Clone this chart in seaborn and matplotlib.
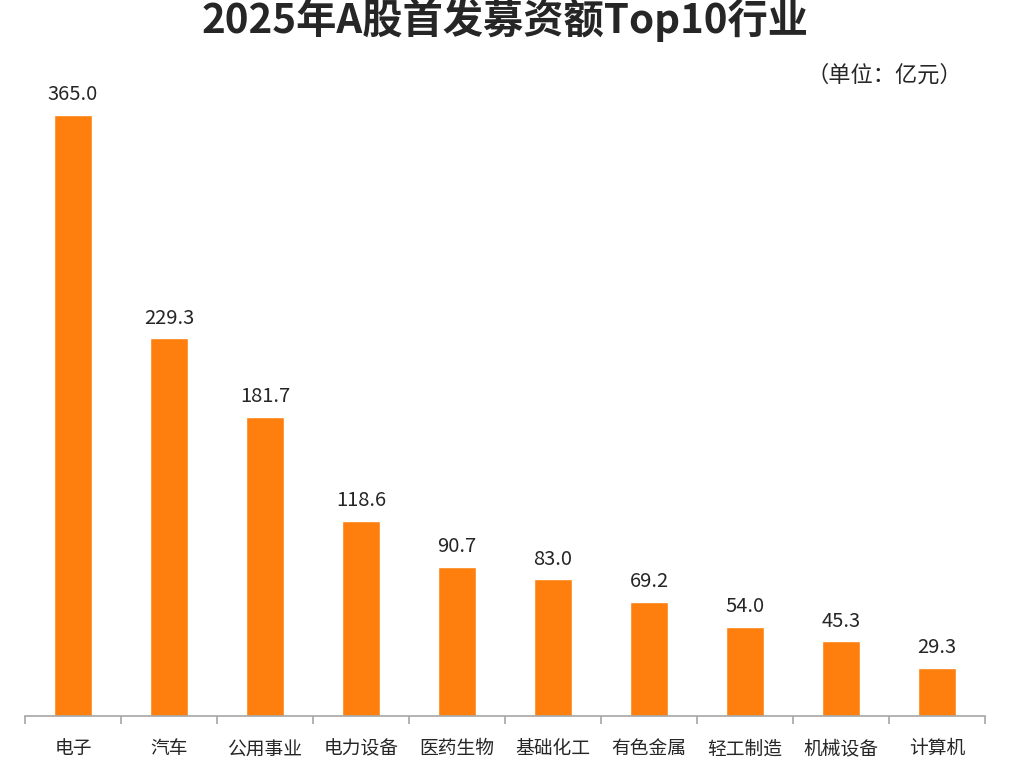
#!/usr/bin/env python3
# -*- coding: utf-8 -*-

import numpy as np
import pandas as pd
import matplotlib
matplotlib.use('Agg')
import matplotlib.pyplot as plt
import seaborn as sns

industries = ['电子', '汽车', '公用事业', '电力设备', '医药生物',
              '基础化工', '有色金属', '轻工制造', '机械设备', '计算机']
amounts = [365.0, 229.3, 181.7, 118.6, 90.7, 83.0, 69.2, 54.0, 45.3, 29.3]

title = '2025年A股首发募资额Top10行业'
unit = '（单位：亿元）'

sns.set_theme(style='white')
plt.rcParams['font.family'] = ['Noto Sans CJK SC', 'DejaVu Sans']

df = pd.DataFrame({'industry': industries, 'amount': amounts})

fig = plt.figure(figsize=(10.3, 7.7), dpi=100)
ax = fig.add_axes([0.0243, 0.0701, 0.932, 0.8556])

sns.barplot(data=df, x='industry', y='amount', color='#FF7F0E',
            saturation=1, width=0.4, ax=ax)

# value labels above bars
for i, v in enumerate(amounts):
    ax.annotate(f'{v:.1f}', (i, v), xytext=(0, 7), textcoords='offset points',
                ha='center', va='bottom', fontsize=14.5, color='#262626')

ax.set_xlim(-0.5, len(industries) - 0.5)
ax.set_ylim(0, 400)
ax.set_xlabel('')
ax.set_ylabel('')
ax.set_yticks([])

for s in ['top', 'right', 'left']:
    ax.spines[s].set_visible(False)
ax.spines['bottom'].set_color('#A6A6A6')
ax.spines['bottom'].set_linewidth(1.2)

# tick marks between categories
ax.set_xticks(np.arange(-0.5, len(industries)), minor=True)
ax.tick_params(axis='x', which='minor', length=6, width=1.2,
               color='#A6A6A6', direction='out', bottom=True)
ax.tick_params(axis='x', which='major', length=0, pad=16,
               labelsize=13.5, labelcolor='#262626')

fig.text(0.49, 0.974, title, ha='center', va='center',
         fontsize=29, fontweight='heavy', color='#262626')
fig.text(0.934, 0.902, unit, ha='right', va='center',
         fontsize=16, color='#262626')

plt.savefig('out.png', dpi=100)
